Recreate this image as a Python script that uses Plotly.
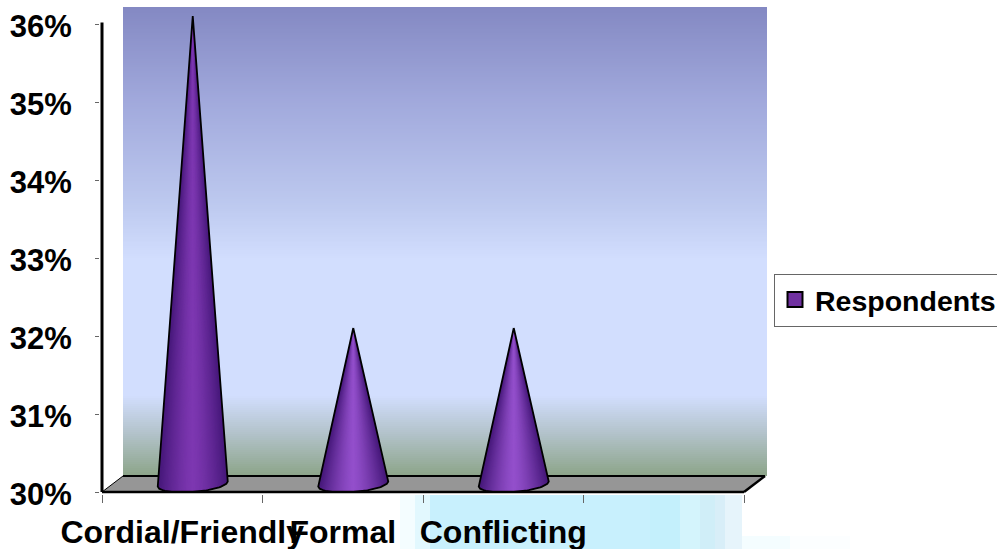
import plotly.graph_objects as go
import numpy as np

categories = ["Cordial/Friendly", "Formal", "Conflicting", "", ""]
respondents = [36, 32, 32]
series_name = "Respondents"
y_ticks = [30, 31, 32, 33, 34, 35, 36]
y_labels = ["30%", "31%", "32%", "33%", "34%", "35%", "36%"]

W, H = 997, 549
L, T, R_PX, B_PX = 102, 7, 767, 492      # position of category 0 / 30% and outer wall bounds, pixels
PAD = 2                                  # plot area reaches past the axes so their thick lines are not clipped
PL, PB = L - PAD, B_PX + PAD
PX_X = 160.5                             # pixels per category
PX_Y = 78.0                              # pixels per percent
x_max = (R_PX - L) / PX_X
y_min = 30
y_max = 30 + (B_PX - T) / PX_Y
DX = 21 / PX_X      # depth of the 3D box
DY = 16 / PX_Y
px_x = lambda p: p / PX_X
px_y = lambda p: p / PX_Y
paper_x = lambda p: (p - PL) / (R_PX - PL)
paper_y = lambda p: (PB - p) / (PB - T)

fig = go.Figure()

# back wall gradient
wall_stops = [(0.0, "#8489c3"), (0.2, "#a1a9dc"), (0.42, "#bdc9ef"), (0.54, "#d2defe"),
              (0.83, "#d2defe"), (0.91, "#b3c3cb"), (1.0, "#8da58a")]
rows = np.linspace(0, 1, 235)
edges = 30 + DY + (1 - np.linspace(0, 1, 236)) * (y_max - 30 - DY)
fig.add_trace(go.Heatmap(x=[DX, x_max], y=edges, z=[[r] for r in rows],
                         colorscale=[[a, b] for a, b in wall_stops], zmin=0, zmax=1,
                         showscale=False, hoverinfo="skip"))

# floor
fig.add_trace(go.Scatter(x=[0, DX, 4 + DX, 4, 0], y=[30, 30 + DY, 30 + DY, 30, 30], mode="lines",
                         fill="toself", fillcolor="#969696", line=dict(color="rgba(0,0,0,0)", width=0),
                         showlegend=False, hoverinfo="skip", cliponaxis=False))
# box edges
def edge(xs, ys, width, color="black"):
    fig.add_trace(go.Scatter(x=xs, y=ys, mode="lines", line=dict(color=color, width=width),
                             showlegend=False, hoverinfo="skip", cliponaxis=False))
edge([DX, 4 + DX], [30 + DY, 30 + DY], 2)
edge([0, DX], [30, 30 + DY], 1)
edge([4, 4 + DX], [30, 30 + DY], 2.5)

# cones: nested shapes, dark outside to light in the middle, so no seams show
def shade(t, peak):
    c0, c1 = np.array([0x46, 0x18, 0x7a]), np.array(peak)
    return "rgb(%d,%d,%d)" % tuple(c0 + (c1 - c0) * t)

N = 30
Rx = px_x(35)
for i, v in enumerate(respondents):
    cx = i + 0.5 + DX / 2
    apex_y = v + DY / 2
    by = 30 + DY / 2
    peak = [0x7e, 0x38, 0xb2] if v > 34 else [0x94, 0x50, 0xcc]
    def base(u):
        return cx + u * Rx, by + px_y(2.5) * u - px_y(8) * np.sqrt(max(0.0, 1 - u * u))
    for k in range(N):
        s = 1 - k / N
        pts = [base(u) for u in np.linspace(-s, s, 30)]
        c = shade(1 - s ** 1.4, peak)
        fig.add_trace(go.Scatter(x=[cx] + [p[0] for p in pts] + [cx], y=[apex_y] + [p[1] for p in pts] + [apex_y],
                                 mode="lines", fill="toself", fillcolor=c, line=dict(width=0, color=c),
                                 showlegend=False, hoverinfo="skip", cliponaxis=False))
    pts = [base(u) for u in np.linspace(-1, 1, 50)]
    fig.add_trace(go.Scatter(x=[cx] + [p[0] for p in pts] + [cx], y=[apex_y] + [p[1] for p in pts] + [apex_y],
                             mode="lines", line=dict(color="black", width=1.8),
                             showlegend=False, hoverinfo="skip", cliponaxis=False))

# axis lines
edge([0, 4], [30, 30], 2.5)
edge([0, 0], [30, 36.02], 3)

# legend entry
fig.add_trace(go.Scatter(x=[None], y=[None], mode="markers", name=series_name,
                         marker=dict(symbol="square", size=15, color="#7030a0",
                                     line=dict(color="black", width=2))))

# pale blocky artefact beneath the axis
art_x = [400, 415, 430, 650, 680, 700, 715, 725, 742, 790, 850]
art_c = ["#f4fdff", "#e2f8fe", "#c8f0fd", "#c4f0fc", "#d4f4fc", "#d0eef8", "#d8eef8", "#e6f4fb", "#f4fdff", "#fcfeff"]
shapes = []
for x0, x1, c in zip(art_x[:-1], art_x[1:], art_c):
    top = 495 if x0 < 742 else 536
    shapes.append(dict(type="rect", xref="paper", yref="paper", layer="below",
                       x0=paper_x(x0), x1=paper_x(x1), y0=paper_y(549), y1=paper_y(top),
                       fillcolor=c, line=dict(width=0)))

FONT = "Liberation Sans, Arial, sans-serif"
fig.update_layout(
    width=W, height=H, autosize=False,
    margin=dict(l=PL, r=W - R_PX, t=T, b=H - PB, autoexpand=False),
    paper_bgcolor="white", plot_bgcolor="rgba(0,0,0,0)",
    shapes=shapes,
    font=dict(family=FONT, color="black"),
    showlegend=True,
    legend=dict(x=paper_x(774), xanchor="left", y=paper_y(300), yanchor="middle",
                bgcolor="white", bordercolor="#666666", borderwidth=1,
                font=dict(size=28.5, family=FONT, weight="bold"), itemwidth=30),
    xaxis=dict(range=[-px_x(PAD), x_max], showgrid=False, zeroline=False, showline=False,
               tickmode="array", tickvals=[0.5, 1.5, 2.5, 3.5, 4.5], ticktext=categories,
               ticks="", ticklen=0, tickangle=0, ticklabelstandoff=16,
               tickfont=dict(size=32, family=FONT, weight="bold"),
               minor=dict(tickmode="array", tickvals=[0, 1, 2, 3, 4], ticks="outside",
                          ticklen=8, tickwidth=1, tickcolor="#666666", showgrid=False)),
    yaxis=dict(range=[y_min - px_y(PAD), y_max], showgrid=False, zeroline=False, showline=False,
               tickmode="array", tickvals=y_ticks, ticktext=y_labels,
               ticks="outside", ticklen=4, tickwidth=1, tickcolor="#666666",
               ticklabelstandoff=17, ticklabelshift=2,
               tickfont=dict(size=31, family=FONT, weight="bold")),
)

fig.write_html("out.html", config=dict(displayModeBar=False),
               post_script="document.body.style.margin='0';document.documentElement.style.overflow='hidden';")
